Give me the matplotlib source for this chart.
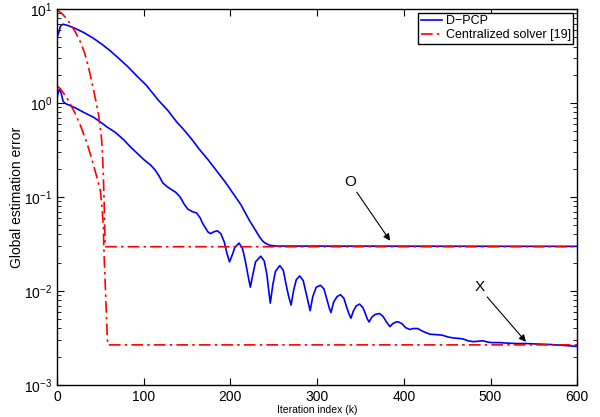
import numpy as np
import matplotlib
matplotlib.use('Agg')
import matplotlib.pyplot as plt

plt.rcParams['font.family'] = ['Liberation Sans', 'DejaVu Sans']
plt.rcParams['mathtext.fontset'] = 'custom'
plt.rcParams['mathtext.rm'] = 'Liberation Sans'
plt.rcParams['mathtext.it'] = 'Liberation Sans'

# D-PCP, upper curve (iteration, log10 error)
k_dpcp_o = [0, 2, 4, 7, 13, 21, 31, 42, 52, 61, 72, 82, 92, 103, 117, 128, 138, 145,
            155, 164, 174, 184, 194, 203, 212, 222, 228, 234, 238, 242, 246, 253, 600]
log_dpcp_o = [0.70, 0.75, 0.82, 0.84, 0.825, 0.795, 0.75, 0.69, 0.625, 0.56, 0.47, 0.385,
              0.29, 0.19, 0.03, -0.08, -0.20, -0.27, -0.38, -0.49, -0.60, -0.72, -0.84,
              -0.96, -1.08, -1.25, -1.34, -1.43, -1.476, -1.50, -1.515, -1.522, -1.525]

# D-PCP, lower curve
k_dpcp_x = [0, 1, 3, 5, 7, 9, 11, 16, 21, 31, 42, 50, 57, 67, 77, 84, 92, 100, 108, 113,
            118, 122, 127, 132, 137, 142, 147, 151, 156, 161, 165, 168, 174, 177, 181, 185,
            189, 193, 196, 199, 202, 205, 210, 214, 217, 220, 223, 226, 229, 235, 239, 242,
            244, 246, 249, 252, 257, 261, 264, 267, 270, 273, 276, 280, 284, 287, 290, 292,
            295, 299, 304, 308, 311, 314, 316, 319, 323, 327, 331, 334, 337, 339, 342, 345,
            349, 353, 356, 358, 360, 363, 367, 372, 376, 380, 384, 387, 391, 394, 398, 402,
            407, 411, 416, 422, 430, 437, 444, 451, 457, 463, 468, 474, 480, 486, 491, 497,
            502, 510, 519, 529, 542, 554, 569, 585, 600]
log_dpcp_x = [0.05, 0.10, 0.15, 0.10, 0.02, 0.0, -0.01, -0.03, -0.05, -0.10, -0.15, -0.20,
              -0.25, -0.31, -0.39, -0.46, -0.53, -0.60, -0.66, -0.71, -0.78, -0.85, -0.89,
              -0.92, -0.95, -1.00, -1.08, -1.13, -1.155, -1.17, -1.22, -1.28, -1.37, -1.39,
              -1.37, -1.36, -1.39, -1.48, -1.60, -1.69, -1.62, -1.54, -1.49, -1.55, -1.67,
              -1.82, -1.96, -1.82, -1.69, -1.63, -1.68, -1.82, -1.98, -2.13, -1.93, -1.79,
              -1.73, -1.78, -1.92, -2.05, -2.15, -1.99, -1.88, -1.84, -1.89, -2.01, -2.13,
              -2.21, -2.06, -1.96, -1.94, -1.98, -2.08, -2.18, -2.23, -2.12, -2.06, -2.04,
              -2.08, -2.17, -2.25, -2.29, -2.21, -2.16, -2.14, -2.18, -2.25, -2.30, -2.33,
              -2.28, -2.25, -2.24, -2.27, -2.33, -2.38, -2.35, -2.33, -2.33, -2.35, -2.39,
              -2.41, -2.40, -2.40, -2.43, -2.46, -2.465, -2.47, -2.49, -2.50, -2.505, -2.51,
              -2.53, -2.54, -2.535, -2.53, -2.545, -2.55, -2.55, -2.555, -2.56, -2.56,
              -2.565, -2.57, -2.58, -2.59]

# centralized solver [19]
k_cent_o = [0, 5, 10, 15, 21, 27, 32, 35, 38, 41, 43, 45.5, 47.7, 49.7, 51.5, 52.5, 53.5,
            54.5, 55.2, 55.5, 600]
log_cent_o = [0.99, 0.96, 0.91, 0.85, 0.76, 0.65, 0.53, 0.43, 0.316, 0.19, 0.103, -0.01,
              -0.11, -0.25, -0.39, -0.55, -0.78, -1.1, -1.4, -1.529, -1.529]
k_cent_x = [0, 3.5, 8, 13, 21, 27.5, 34, 40, 46, 50, 52, 53.5, 54, 55, 56.5, 58, 58.5, 600]
log_cent_x = [0.18, 0.156, 0.10, 0.03, -0.11, -0.25, -0.41, -0.59, -0.79, -0.93, -1.12,
              -1.32, -1.53, -1.78, -2.13, -2.49, -2.574, -2.574]

fig = plt.figure(figsize=(6.0, 4.17), dpi=100)
ax = fig.add_axes([0.095, 0.077, 0.867, 0.901])

blue = '#0000ff'
red = '#ff0000'
dashdot = (0, (7, 2.5, 1.5, 2.5))
ax.semilogy(k_dpcp_o, 10 ** np.array(log_dpcp_o), color=blue, lw=1.2, label='D\u2212PCP')
ax.semilogy(k_dpcp_x, 10 ** np.array(log_dpcp_x), color=blue, lw=1.2)
ax.semilogy(k_cent_o, 10 ** np.array(log_cent_o), color=red, lw=1.2, ls=dashdot,
            label='Centralized solver [19]')
ax.semilogy(k_cent_x, 10 ** np.array(log_cent_x), color=red, lw=1.2, ls=dashdot)

ax.set_xlim(0, 600)
ax.set_ylim(1e-3, 1e1)
ax.set_xticks([0, 100, 200, 300, 400, 500, 600])
ax.tick_params(which='both', direction='in', top=True, right=True, labelsize=10)
ax.tick_params(which='major', length=5)
ax.tick_params(which='minor', length=3)
for s in ax.spines.values():
    s.set_linewidth(1.0)

ax.set_xlabel('Iteration index (k)', fontsize=7.5, labelpad=1)
ax.set_ylabel('Global estimation error', fontsize=10, labelpad=0)

# annotations
ax.annotate('', xy=(386, 0.0324), xytext=(344, 0.119),
            arrowprops=dict(arrowstyle='-|>', color='k', lw=0.8, mutation_scale=10))
ax.text(338, 0.145, 'O', fontsize=11, ha='center', va='center')
ax.annotate('', xy=(543, 0.00273), xytext=(494, 0.0091),
            arrowprops=dict(arrowstyle='-|>', color='k', lw=0.8, mutation_scale=10))
ax.text(487, 0.011, 'X', fontsize=11, ha='center', va='center')

leg = ax.legend(loc='upper right', fontsize=9, fancybox=False, framealpha=1,
                edgecolor='k', borderaxespad=0.3, handlelength=1.7, handletextpad=0.3,
                borderpad=0.2, labelspacing=0.15)
leg.get_frame().set_linewidth(1.0)

plt.savefig('out.png', dpi=100)
